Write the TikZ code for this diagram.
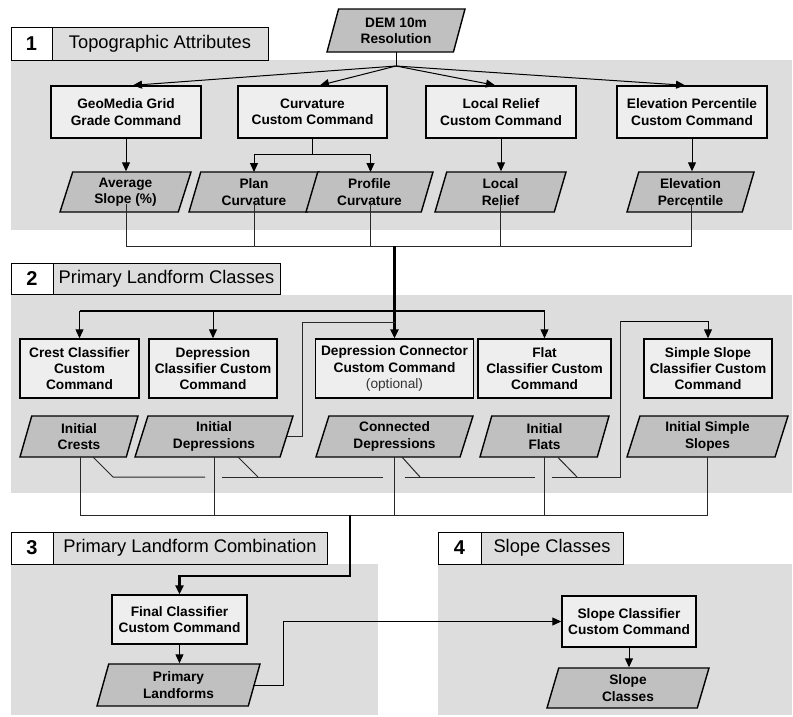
\documentclass[tikz,border=0pt]{standalone}
\usepackage{fontspec}
\setmainfont{Liberation Sans}
\usetikzlibrary{shapes.geometric,arrows.meta,calc}
\definecolor{bandgray}{RGB}{221,221,221}
\definecolor{boxgray}{RGB}{238,238,238}
\definecolor{paragray}{RGB}{192,192,192}
\definecolor{linkgray}{RGB}{40,40,40}
\begin{document}
\begin{tikzpicture}[x=1pt,y=-1pt,
  every node/.style={font=\fontsize{13.7}{16.3}\selectfont\bfseries, text=black},
  cmd/.style={rectangle, draw=black, fill=boxgray, line width=1.4pt, align=center, inner sep=0pt},
  dat/.style={trapezium, trapezium left angle=66, trapezium right angle=114, trapezium stretches body, draw=black, fill=paragray, line width=1.4pt, align=center, inner xsep=0pt, inner ysep=0pt},
  hnum/.style={rectangle, draw=black, fill=white, line width=0.9pt, inner sep=0pt, font=\fontsize{20}{22}\selectfont\bfseries},
  hlab/.style={rectangle, draw=black, fill=bandgray, line width=0.9pt, inner sep=0pt, font=\fontsize{18.3}{20}\selectfont, text=black},
  arr/.style={-{Triangle[length=9pt,width=8pt]}, line width=1pt, draw=black},
  link/.style={line width=1pt, draw=linkgray},
  mainline/.style={line width=2.2pt, draw=black},
]
\useasboundingbox (0,0) rectangle (793,716);

% bands
\fill[bandgray] (11,60) rectangle (792,230);
\fill[bandgray] (11,295) rectangle (792,493);
\fill[bandgray] (11,564) rectangle (378,715);
\fill[bandgray] (438,564) rectangle (792,715);

% headers
\node[hnum, minimum width=41pt, minimum height=33pt] (h1n) at (31.5,43.5) {1};
\node[hlab, minimum width=216pt, minimum height=33pt] (h1l) at (160,43.5) {Topographic Attributes};
\node[hnum, minimum width=42pt, minimum height=31pt] (h2n) at (32,278.5) {2};
\node[hlab, minimum width=227pt, minimum height=31pt] (h2l) at (166.5,278.5) {Primary Landform Classes};
\node[hnum, minimum width=42pt, minimum height=32pt] (h3n) at (32,548) {3};
\node[hlab, minimum width=274pt, minimum height=32pt] (h3l) at (190,548) {Primary Landform Combination};
\node[hnum, minimum width=43pt, minimum height=32pt] (h4n) at (459.5,548) {4};
\node[hlab, minimum width=142pt, minimum height=32pt] (h4l) at (552,548) {Slope Classes};

% section 1
\node[dat, minimum width=138pt, minimum height=43pt] (dem) at (396,30.5) {DEM 10m\\Resolution};
\node[cmd, minimum width=150pt, minimum height=52pt] (geo) at (126,112) {GeoMedia Grid\\Grade Command};
\node[cmd, minimum width=149pt, minimum height=52pt] (curv) at (312.5,112) {Curvature\\Custom Command};
\node[cmd, minimum width=150pt, minimum height=52pt] (lrc) at (501,112) {Local Relief\\Custom Command};
\node[cmd, minimum width=150pt, minimum height=52pt] (elc) at (692,112) {Elevation Percentile\\Custom Command};
\node[dat, minimum width=131pt, minimum height=40pt] (avg) at (125.5,192) {Average\\Slope (\%)};
\node[dat, minimum width=130pt, minimum height=40pt] (plan) at (254,192) {Plan\\Curvature};
\node[dat, minimum width=127pt, minimum height=40pt] (prof) at (369.5,192) {Profile\\Curvature};
\node[dat, minimum width=131pt, minimum height=40pt] (lrp) at (500.5,192) {Local\\Relief};
\node[dat, minimum width=127pt, minimum height=40pt] (elp) at (690.5,192) {Elevation\\Percentile};

% section 2
\node[cmd, minimum width=119pt, minimum height=59pt] (crc) at (79.5,368.5) {Crest Classifier\\Custom\\Command};
\node[cmd, minimum width=128pt, minimum height=59pt] (dcc) at (213,368.5) {Depression\\Classifier Custom\\Command};
\node[cmd, minimum width=158pt, minimum height=59pt] (dnc) at (394.5,368.5) {Depression Connector\\Custom Command\\{\mdseries\color{black!80}(optional)}};
\node[cmd, minimum width=133pt, minimum height=59pt] (flc) at (544.5,368.5) {Flat\\Classifier Custom\\Command};
\node[cmd, minimum width=128pt, minimum height=59pt] (ssc) at (708,368.5) {Simple Slope\\Classifier Custom\\Command};
\node[dat, minimum width=118pt, minimum height=41pt] (icr) at (79,436.5) {Initial\\Crests};
\node[dat, minimum width=158pt, minimum height=41pt] (idp) at (214,436.5) {Initial\\Depressions};
\node[dat, minimum width=157pt, minimum height=41pt] (cdp) at (394.5,436.5) {Connected\\Depressions};
\node[dat, minimum width=129pt, minimum height=41pt] (ifl) at (544.5,436.5) {Initial\\Flats};
\node[dat, minimum width=161pt, minimum height=41pt] (iss) at (707.5,436.5) {Initial Simple\\Slopes};

% section 3 and 4
\node[cmd, minimum width=135pt, minimum height=49pt] (fin) at (179.5,619.5) {Final Classifier\\Custom Command};
\node[dat, minimum width=163pt, minimum height=42pt] (prl) at (178.5,685) {Primary\\Landforms};
\node[cmd, minimum width=134pt, minimum height=51pt] (scc) at (629,621.5) {Slope Classifier\\Custom Command};
\node[dat, minimum width=162pt, minimum height=40pt] (scl) at (628,688) {Slope\\Classes};

% ---- connectors section 1
\coordinate (fork) at (396,66);
\draw[line width=1pt] ($(dem.center)+(0,21.5)$) -- (fork);
\draw[arr] (fork) -- ($(geo.north)+(7,0)$);
\draw[arr] (fork) -- ($(curv.north)+(7.5,0)$);
\draw[arr] (fork) -- ($(lrc.north)+(-6,0)$);
\draw[arr] (fork) -- ($(elc.north)+(-7,0)$);
\draw[arr] (geo.south) -- (geo.south |- avg.north);
\coordinate (cvj) at ($(curv.south)+(0,16)$);
\draw[line width=1pt] (curv.south) -- (cvj);
\draw[arr] (cvj) -| ($(plan.center)+(0,-20)$);
\draw[arr] (cvj) -| ($(prof.center)+(1,-20)$);
\draw[arr] (lrc.south) -- (lrc.south |- lrp.north);
\draw[arr] (elc.south) -- (elc.south |- elp.north);

\coordinate (c1) at (394.5,246);
\draw[link] ($(avg.center)+(0.5,12)$) |- (c1);
\draw[link] ($(elp.center)+(1,12)$) |- (c1);
\draw[link] ($(plan.center)+(0,12)$) -- (plan.center |- c1);
\draw[link] ($(prof.center)+(1,12)$) -- ($(prof.center |- c1)+(1,0)$);
\draw[link] ($(lrp.center)+(0,6)$) -- (lrp.center |- c1);
\draw[mainline, arr, line width=2.2pt] (c1) -- (dnc.north);

% ---- connectors section 2
\coordinate (b2) at (394.5,311);
\draw[line width=1.2pt] (crc.north |- b2) -- (flc.north |- b2);
\draw[arr] (crc.north |- b2) -- (crc.north);
\draw[arr] (dcc.north |- b2) -- (dcc.north);
\draw[arr] (flc.north |- b2) -- (flc.north);

\coordinate (dj) at (302,322);
\draw[link] ($(idp.center)+(73,0)$) -| (dj) -- (dj -| c1);

\coordinate (sj) at (620,321);
\coordinate (bj) at (620,477);
\coordinate (g0) at (113,477);
\draw[arr] (sj) -| (ssc.north);
\draw[link] ($(icr.center)+(14,20.5)$) -- (g0) -- ($(idp.center |- g0)+(-9,0)$);
\draw[link] ($(idp.center |- g0)+(8,0)$) -- ($(cdp.center |- g0)+(-12,0)$);
\draw[link] ($(idp.center)+(24,20.5)$) -- ++(20,20);
\draw[link] ($(cdp.center |- g0)+(10,0)$) -- ($(ifl.center |- g0)+(-10,0)$);
\draw[link] ($(cdp.center)+(7.5,20.5)$) -- ++(18,20);
\draw[link] ($(ifl.center |- g0)+(7,0)$) -- (bj) -- (sj);
\draw[link] ($(ifl.center)+(13.5,21)$) -- ++(19,19.5);

\coordinate (c2) at (350,515);
\draw[link] ($(icr.center)+(1,20.5)$) |- (c2);
\draw[link] ($(iss.center)+(0,20.5)$) |- (c2);
\draw[link] ($(idp.center)+(0,20.5)$) -- (idp.center |- c2);
\draw[link] ($(cdp.center)+(0,20.5)$) -- (cdp.center |- c2);
\draw[link] ($(ifl.center)+(0,20.5)$) -- (ifl.center |- c2);

% ---- connectors section 3/4
\coordinate (t3) at (350,576);
\draw[mainline, arr, line width=2.2pt] (c2) -- (t3) -| (fin.north);
\draw[arr] (fin.south) -- (fin.south |- prl.north);
\coordinate (pj) at (283,621.5);
\draw[arr] ($(prl.center)+(74.5,0)$) -| (pj) -- (scc.west);
\draw[arr] (scc.south) -- (scc.south |- scl.north);
\end{tikzpicture}
\end{document}
